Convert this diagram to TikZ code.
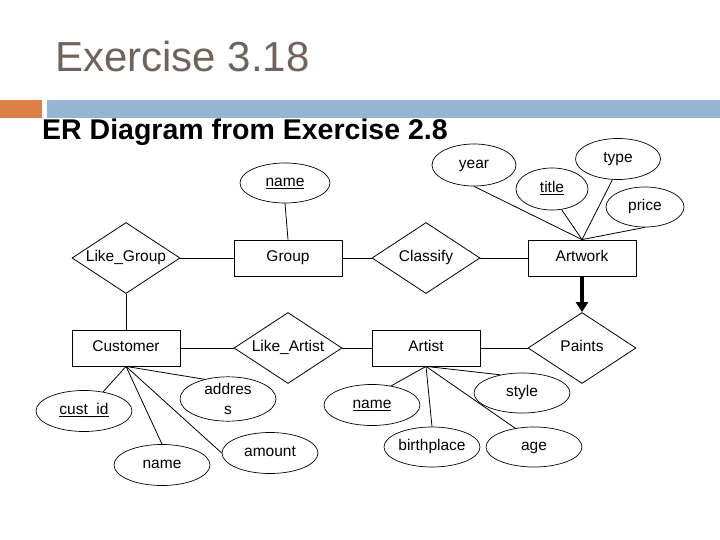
\documentclass[tikz,border=0pt]{standalone}
\usepackage{fontspec}
\setmainfont{Liberation Sans}
\usetikzlibrary{shapes.geometric,arrows.meta}
\definecolor{titlegray}{RGB}{111,99,92}
\definecolor{barblue}{RGB}{148,182,210}
\definecolor{barorange}{RGB}{221,128,71}
\newcommand{\keyattr}[1]{\setbox0\hbox{#1}\rlap{\raisebox{-2.6pt}{\rule{\wd0}{1.4pt}}}\box0}
\begin{document}
\begin{tikzpicture}[x=1pt,y=-1pt,
  every node/.style={font=\fontsize{15.5}{17}\selectfont, inner sep=0pt},
  lbl/.style={text height=11pt, text depth=3.5pt},
  entity/.style={lbl, draw, rectangle, minimum width=108pt, minimum height=36pt, line width=0.8pt},
  rel/.style={lbl, draw, diamond, aspect=1.52, minimum width=108pt, minimum height=71pt, line width=0.8pt},
  attr/.style={lbl, draw, ellipse, minimum width=96pt, minimum height=41pt, line width=0.7pt},
  conn/.style={line width=0.8pt}]
\useasboundingbox (0,0) rectangle (720,540);
\fill[white] (0,0) rectangle (720,540);
% header
\node[anchor=base west, text=titlegray, font=\fontsize{42}{48}\selectfont] (title) at (55,72) {Exercise 3.18};
\fill[barorange] (0,100) rectangle (42,118);
\fill[barblue] (47,100) rectangle (720,118);
\node[anchor=base west, font=\fontsize{28.5}{32}\selectfont\bfseries] (sub) at (42,140) {ER Diagram from Exercise 2.8};
% entities
\node[entity] (group) at (288,258) {Group};
\node[entity] (artwork) at (582,258) {Artwork};
\node[entity] (customer) at (126,348) {Customer};
\node[entity] (artist) at (426,348) {Artist};
% relationships
\node[rel] (likegroup) at (126,258) {Like\_Group};
\node[rel] (classify) at (426,258) {Classify};
\node[rel] (likeartist) at (288,348) {Like\_Artist};
\node[rel] (paints) at (582,348) {Paints};
% attributes
\node[attr, minimum width=90pt, minimum height=40pt] (gname) at (285,183) {\keyattr{name}};
\node[attr, minimum width=84pt, minimum height=42pt] (year) at (474,165) {year};
\node[attr, minimum width=72pt, minimum height=42pt] (title2) at (552,189) {\keyattr{title}};
\node[attr, minimum width=85pt, minimum height=41pt] (type) at (618,159) {type};
\node[attr, minimum width=78pt, minimum height=40pt] (price) at (645,207) {price};
\node[attr] (custid) at (84,411) {\keyattr{cust\_id}};
\node[attr] (cname) at (162,465) {name};
\node[attr, text height=, text depth=, align=center, font=\fontsize{15.5}{20}\selectfont] (address) at (228,399) {addres\\s};
\node[attr] (amount) at (270,453) {amount};
\node[attr] (aname) at (372,405) {\keyattr{name}};
\node[attr, minimum height=40pt] (birth) at (432,447) {birthplace};
\node[attr, minimum height=40pt] (style) at (522,393) {style};
\node[attr, minimum height=40pt] (age) at (534,447) {age};
% connectors
\draw[conn] (gname.south) -- (group.north);
\draw[conn] (likegroup) -- (group);
\draw[conn] (group) -- (classify);
\draw[conn] (classify) -- (artwork);
\draw[conn] (likegroup) -- (customer);
\draw[conn] (customer) -- (likeartist);
\draw[conn] (likeartist) -- (artist);
\draw[conn] (artist) -- (paints);
\draw[line width=3.5pt, -{Triangle[width=12pt,length=10pt]}] (artwork.south) -- (paints.north);
\draw[conn] (year.south) -- (artwork.north);
\draw[conn] (title2.-65) -- (artwork.north);
\draw[conn] (type.255) -- (artwork.north);
\draw[conn] (price.south) -- (artwork.north);
\draw[conn] (custid.45) -- (customer.south);
\draw[conn] (cname.north) -- (customer.south);
\draw[conn] (address.140) -- (customer.south);
\draw[conn] (amount.west) -- (customer.south);
\draw[conn] (aname.45) -- (artist.south);
\draw[conn] (birth.north) -- (artist.south);
\draw[conn] (style.140) -- (artist.south);
\draw[conn] (age.135) -- (artist.south);
\end{tikzpicture}
\end{document}
